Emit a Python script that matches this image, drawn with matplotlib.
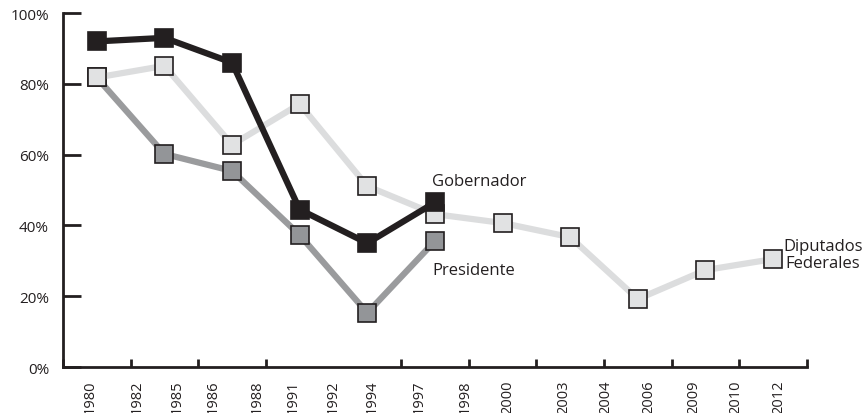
import matplotlib
matplotlib.use("Agg")
import matplotlib.pyplot as plt

plt.rcParams['font.family'] = ['Open Sans', 'DejaVu Sans']

# values (percent), one point per election slot
gobernador = [92, 93, 86, 44.5, 35, 46.5]
presidente = [81.8, 60.2, 55.4, 37.3, 15.3, 35.6]
diputados = [81.8, 85.1, 62.8, 74.3, 51.1, 43.2, 40.7, 36.7, 19.2, 27.4, 30.5]

# year labels and where they sit along the axis (slot units)
year_labels = ['1980', '1982', '1985', '1986', '1988', '1991', '1992', '1994', '1997',
               '1998', '2000', '2003', '2004', '2006', '2009', '2010', '2012']
label_pos = [-0.10, 0.59, 1.19, 1.72, 2.37, 2.90, 3.50, 4.07, 4.76,
             5.45, 6.07, 6.90, 7.53, 8.16, 8.83, 9.45, 10.09]

ink = '#231f20'
fig = plt.figure(figsize=(8.65, 4.14), dpi=100)
ax = fig.add_axes([0.0728, 0.111, 0.860, 0.855])

ax.plot(range(len(presidente)), presidente, color='#9a9b9d', lw=4.5, marker='s', ms=13,
        mfc='#939598', mec=ink, mew=1.2, zorder=2)
ax.plot(range(len(diputados)), diputados, color='#dcddde', lw=4.5, marker='s', ms=13,
        mfc='#e1e2e3', mec=ink, mew=1.2, zorder=3)
ax.plot(range(len(gobernador)), gobernador, color=ink, lw=4.5, marker='s', ms=13.5,
        mfc=ink, mec=ink, mew=1.2, zorder=4)

ax.set_xlim(-0.5, 10.5)
ax.set_ylim(0, 100)

for s in ['top', 'right']:
    ax.spines[s].set_visible(False)
for s in ['left', 'bottom']:
    ax.spines[s].set_linewidth(2)
    ax.spines[s].set_color(ink)

ax.set_yticks(range(0, 101, 20))
ax.set_yticklabels([f'{v}%' for v in range(0, 101, 20)], fontsize=11, color=ink)
ax.tick_params(axis='y', direction='in', length=13, width=2, color=ink, pad=10)

ax.set_xticks(label_pos)
ax.set_xticklabels(year_labels, rotation=90, fontsize=10.5, color=ink)
ax.set_xticks([i + 0.5 for i in range(-1, 11)], minor=True)
ax.tick_params(axis='x', which='major', length=0, pad=9)
ax.tick_params(axis='x', which='minor', direction='in', length=6, width=2, color=ink)

ax.text(4.96, 52.5, 'Gobernador', fontsize=12, color=ink, ha='left', va='center')
ax.text(4.96, 27.5, 'Presidente', fontsize=12, color=ink, ha='left', va='center')
ax.text(10.74, 31.8, 'Diputados\nFederales', fontsize=12, color=ink, ha='center',
        va='center', linespacing=1.05)

fig.savefig('out.png', dpi=100)
